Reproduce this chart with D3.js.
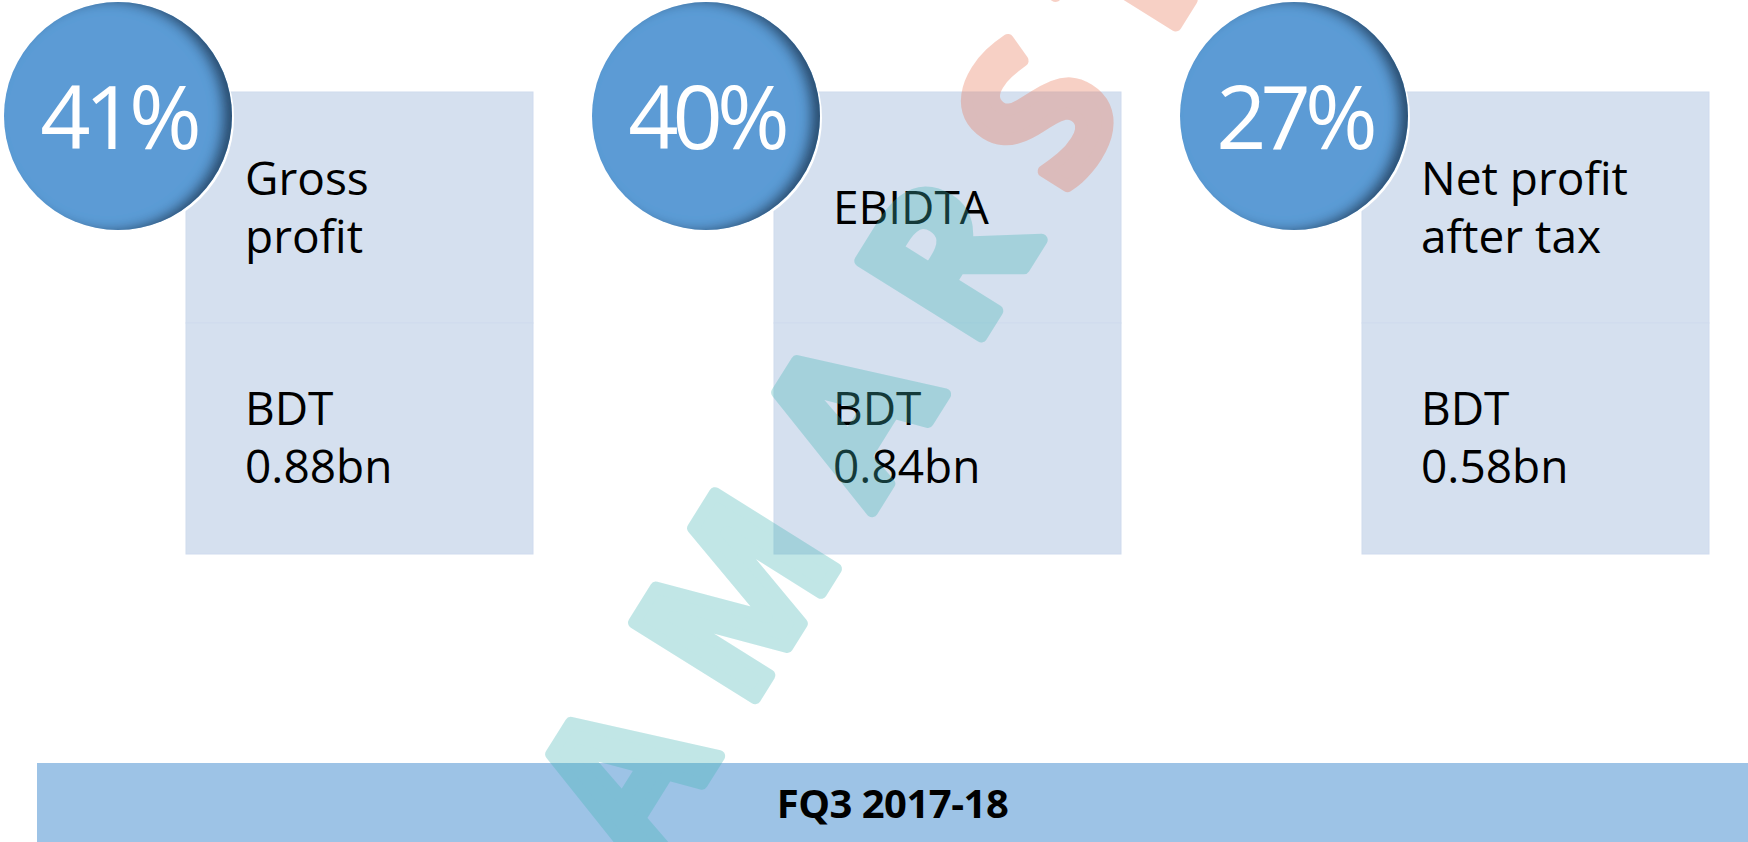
<!DOCTYPE html>
<html>
<head>
<meta charset="utf-8">
<script src="https://cdn.jsdelivr.net/npm/d3@7"></script>
<style>
  body { margin: 0; background: #fff; }
  svg { display: block; font-family: "Open Sans", "Noto Sans", sans-serif; }
</style>
</head>
<body>
<svg id="chart"></svg>
<script>
// the three ratios shown on the slide
let metrics = ['gross', 'ebitda', 'net'];
let percents = ['41%', '40%', '27%'];
let titles = [['Gross', 'profit'], ['EBIDTA'], ['Net profit', 'after tax']];
let amounts = [['BDT', '0.88bn'], ['BDT', '0.84bn'], ['BDT', '0.58bn']];
let period = 'FQ3 2017-18';
let watermark = ['AMAR', 'STOCK'];

let w = 1748;
let h = 842;

let svg = d3.select('#chart')
  .attr('width', w)
  .attr('height', h);

let defs = svg.append('defs');

// inner shadow on the right edge of the round badges
let f = defs.append('filter')
  .attr('id', 'inset')
  .attr('x', '-20%').attr('y', '-20%')
  .attr('width', '140%').attr('height', '140%');
f.append('feOffset').attr('in', 'SourceAlpha').attr('dx', -10).attr('dy', 0).attr('result', 'off');
f.append('feGaussianBlur').attr('in', 'off').attr('stdDeviation', 6).attr('result', 'blur');
f.append('feComposite').attr('in', 'SourceAlpha').attr('in2', 'blur').attr('operator', 'out').attr('result', 'edge');
f.append('feFlood').attr('flood-color', '#1c3350').attr('flood-opacity', 0.85);
f.append('feComposite').attr('in2', 'edge').attr('operator', 'in').attr('result', 'shadow');
let m = f.append('feMerge');
m.append('feMergeNode').attr('in', 'SourceGraphic');
m.append('feMergeNode').attr('in', 'shadow');

// card positions: one band per metric
let xScale = d3.scaleBand()
  .domain(metrics)
  .range([186, 186 + 588 * 3])
  .paddingInner(0);

let cardW = 347;
let yTop = 92, yMid = 323, yBottom = 554;
let r = 114;
let lineH = 58;

let cards = svg.selectAll('g.card')
  .data(metrics)
  .enter()
  .append('g')
  .attr('class', 'card');

// upper and lower panels
cards.append('rect')
  .attr('x', (d) => xScale(d))
  .attr('y', yTop)
  .attr('width', cardW)
  .attr('height', yMid - yTop)
  .attr('fill', '#d5e0ef')
  .attr('stroke', '#cfdbee')
  .attr('stroke-width', 1);

cards.append('rect')
  .attr('x', (d) => xScale(d))
  .attr('y', yMid)
  .attr('width', cardW)
  .attr('height', yBottom - yMid)
  .attr('fill', '#d5e0ef')
  .attr('stroke', '#cfdbee')
  .attr('stroke-width', 1);

// title lines and amounts
cards.each(function (d, i) {
  let g = d3.select(this);
  let x0 = xScale(d) + 59;
  let lines = titles[i];
  let c1 = (yTop + yMid) / 2 - (lines.length - 1) * lineH / 2 + 16;
  g.selectAll('text.title')
    .data(lines)
    .enter()
    .append('text')
    .attr('class', 'title')
    .attr('x', x0)
    .attr('y', (t, j) => c1 + j * lineH)
    .attr('font-size', 46)
    .attr('fill', '#000')
    .text((t) => t);

  let vals = amounts[i];
  let c2 = (yMid + yBottom) / 2 - (vals.length - 1) * lineH / 2 + 15;
  g.selectAll('text.amount')
    .data(vals)
    .enter()
    .append('text')
    .attr('class', 'amount')
    .attr('x', x0)
    .attr('y', (t, j) => c2 + j * lineH)
    .attr('font-size', 46)
    .attr('fill', '#000')
    .text((t) => t);
});

// badges
let cx = (d) => xScale(d) - 68;
let cy = 116;

cards.append('circle')
  .attr('cx', (d) => cx(d) + 2)
  .attr('cy', cy + 2)
  .attr('r', r)
  .attr('fill', '#fff');

cards.append('circle')
  .attr('cx', cx)
  .attr('cy', cy)
  .attr('r', r)
  .attr('fill', '#5b9bd5')
  .attr('filter', 'url(#inset)');

cards.append('text')
  .attr('x', cx)
  .attr('y', cy + 33)
  .attr('text-anchor', 'middle')
  .attr('font-size', 88)
  .attr('letter-spacing', -6)
  .attr('fill', '#fff')
  .text((d, i) => percents[i]);

// period bar
svg.append('rect')
  .attr('x', 37)
  .attr('y', 763)
  .attr('width', w - 37)
  .attr('height', h - 763)
  .attr('fill', '#9dc3e6');

svg.append('text')
  .attr('x', 37 + (w - 37) / 2)
  .attr('y', 818)
  .attr('text-anchor', 'middle')
  .attr('font-size', 40)
  .attr('font-weight', 'bold')
  .attr('letter-spacing', -0.5)
  .attr('fill', '#000')
  .text(period);

// faint diagonal watermark on top
let wm = svg.append('text')
  .attr('transform', 'translate(646,873) rotate(-58)')
  .attr('font-size', 200)
  .attr('font-weight', 'bold')
  .attr('letter-spacing', 50)
  .attr('stroke-width', 12)
  .attr('stroke-linejoin', 'round')
  .attr('opacity', 0.32);
wm.append('tspan')
  .attr('fill', '#40b4b4')
  .attr('stroke', '#40b4b4')
  .text(watermark[0]);
wm.append('tspan')
  .attr('fill', '#e8704f')
  .attr('stroke', '#e8704f')
  .text(watermark[1]);
</script>
</body>
</html>
